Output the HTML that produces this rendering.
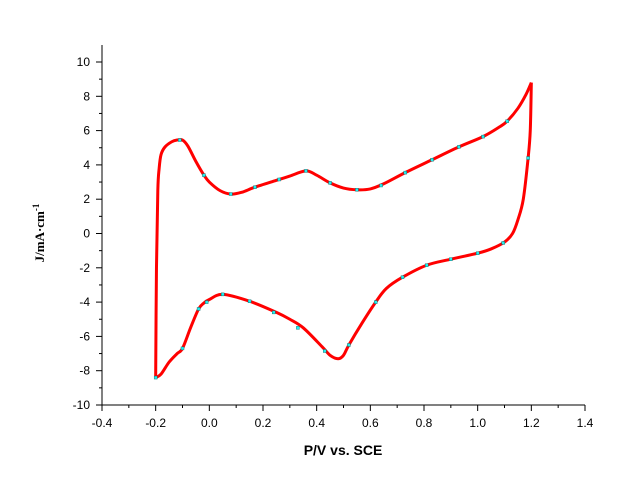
<!DOCTYPE html>
<html><head><meta charset="utf-8"><style>
body{margin:0;background:#fff}
svg text{font-family:"Liberation Sans",sans-serif}
</style></head><body>
<svg id="chart" width="623" height="479" xmlns="http://www.w3.org/2000/svg">
<g id="axes"></g>
<g id="series"></g>
<text x="343" y="455" text-anchor="middle" font-size="14" font-weight="bold">P/V vs. SCE</text>
<text transform="translate(44,233) rotate(-90)" text-anchor="middle" font-size="13" font-weight="bold" style="font-family:'Liberation Serif',serif">J/mA·cm<tspan dy="-5" font-size="9">-1</tspan></text>
</svg>
<script>
const xTicks=[-0.4,-0.2,0.0,0.2,0.4,0.6,0.8,1.0,1.2,1.4];
const yTicks=[-10,-8,-6,-4,-2,0,2,4,6,8,10];
const anodicX=[-0.2,-0.197,-0.192,-0.187,-0.18,-0.165,-0.14,-0.12,-0.1,-0.08,-0.05,-0.02,0.0,0.04,0.08,0.12,0.17,0.25,0.3,0.36,0.4,0.45,0.5,0.55,0.6,0.65,0.73,0.83,0.93,1.02,1.08,1.11,1.15,1.18,1.2];
const anodicY=[-8.4,-2,2.5,3.8,4.6,5.05,5.35,5.45,5.45,5.1,4.2,3.4,3.0,2.5,2.3,2.4,2.7,3.1,3.35,3.65,3.4,2.95,2.65,2.55,2.6,2.9,3.55,4.3,5.05,5.65,6.2,6.55,7.3,8.1,8.8];
const cathodicX=[1.2,1.196,1.188,1.17,1.15,1.13,1.1,1.05,1.0,0.9,0.81,0.72,0.66,0.62,0.57,0.52,0.5,0.48,0.45,0.42,0.35,0.3,0.25,0.15,0.05,0.0,-0.02,-0.04,-0.07,-0.1,-0.12,-0.15,-0.18,-0.2];
const cathodicY=[8.8,6,4.4,2,0.8,0,-0.5,-0.9,-1.15,-1.5,-1.85,-2.55,-3.2,-4.0,-5.2,-6.5,-7.1,-7.3,-7.1,-6.6,-5.5,-5.0,-4.6,-3.95,-3.55,-3.85,-4.05,-4.4,-5.5,-6.7,-7.0,-7.5,-8.2,-8.4];
const markX=[-0.11,-0.02,0.08,0.17,0.26,0.36,0.45,0.55,0.64,0.73,0.83,0.93,1.02,1.11,1.188,1.095,1.0,0.9,0.81,0.72,0.62,0.52,0.43,0.33,0.24,0.15,0.05,-0.01,-0.04,-0.1,-0.2];
const markY=[5.45,3.4,2.3,2.7,3.15,3.65,2.95,2.55,2.8,3.55,4.3,5.05,5.65,6.55,4.4,-0.55,-1.15,-1.5,-1.85,-2.55,-4.0,-6.5,-6.85,-5.5,-4.6,-3.95,-3.55,-4.0,-4.4,-6.7,-8.4];
const X0=102,X1=585,Y0=405,Y1=62;
const xs=v=>X0+(v+0.4)/1.8*(X1-X0);
const ys=v=>Y0-(v+10)/20*(Y0-Y1);
const NS="http://www.w3.org/2000/svg";
function mk(t,a,p){const e=document.createElementNS(NS,t);for(const k in a)e.setAttribute(k,a[k]);p.appendChild(e);return e;}
const ax=document.getElementById('axes');
let l=mk('line',{x1:X0,y1:45,x2:X0,y2:Y0,stroke:'#000'},ax);


l=mk('line',{x1:X0,y1:Y0,x2:X1,y2:Y0,stroke:'#000'},ax);


xTicks.forEach((v,i)=>{
 const x=xs(v);
 mk('line',{x1:x,y1:Y0,x2:x,y2:Y0+6,stroke:'#000'},ax);
 if(i<xTicks.length-1){const xm=xs(v+0.1);mk('line',{x1:xm,y1:Y0,x2:xm,y2:Y0+3,stroke:'#000'},ax);}
 const t=mk('text',{x:x,y:Y0+22,'text-anchor':'middle','font-size':12},ax);
 t.textContent=v.toFixed(1);
 
 
});
yTicks.forEach((v,i)=>{
 const y=ys(v);
 mk('line',{x1:X0-6,y1:y,x2:X0,y2:y,stroke:'#000'},ax);
 if(i<yTicks.length-1){const ym=ys(v+1);mk('line',{x1:X0-3,y1:ym,x2:X0,y2:ym,stroke:'#000'},ax);}
 const t=mk('text',{x:X0-12,y:y+4,'text-anchor':'end','font-size':12},ax);
 t.textContent=String(v);
 
 
});
function path(X,Y){
 const P=X.map((v,i)=>[xs(v),ys(Y[i])]);
 let d='M'+P[0][0]+','+P[0][1];
 for(let i=0;i<P.length-1;i++){
  const p0=P[Math.max(0,i-1)],p1=P[i],p2=P[i+1],p3=P[Math.min(P.length-1,i+2)];
  const c1=[p1[0]+(p2[0]-p0[0])/6,p1[1]+(p2[1]-p0[1])/6];
  const c2=[p2[0]-(p3[0]-p1[0])/6,p2[1]-(p3[1]-p1[1])/6];
  d+=' C'+c1+' '+c2+' '+p2;
 }
 return d;
}
const sg=document.getElementById('series');
let p=mk('path',{d:path(anodicX,anodicY),fill:'none',stroke:'#f00','stroke-width':3,'stroke-linejoin':'round'},sg);


p=mk('path',{d:path(cathodicX,cathodicY),fill:'none',stroke:'#f00','stroke-width':3,'stroke-linejoin':'round'},sg);


markX.forEach((v,i)=>{
 const r=mk('rect',{x:xs(v)-1.5,y:ys(markY[i])-1.5,width:3,height:3,fill:'#2ee',stroke:'#066','stroke-width':0.4},sg);
 
 
});
</script>
</body></html>
